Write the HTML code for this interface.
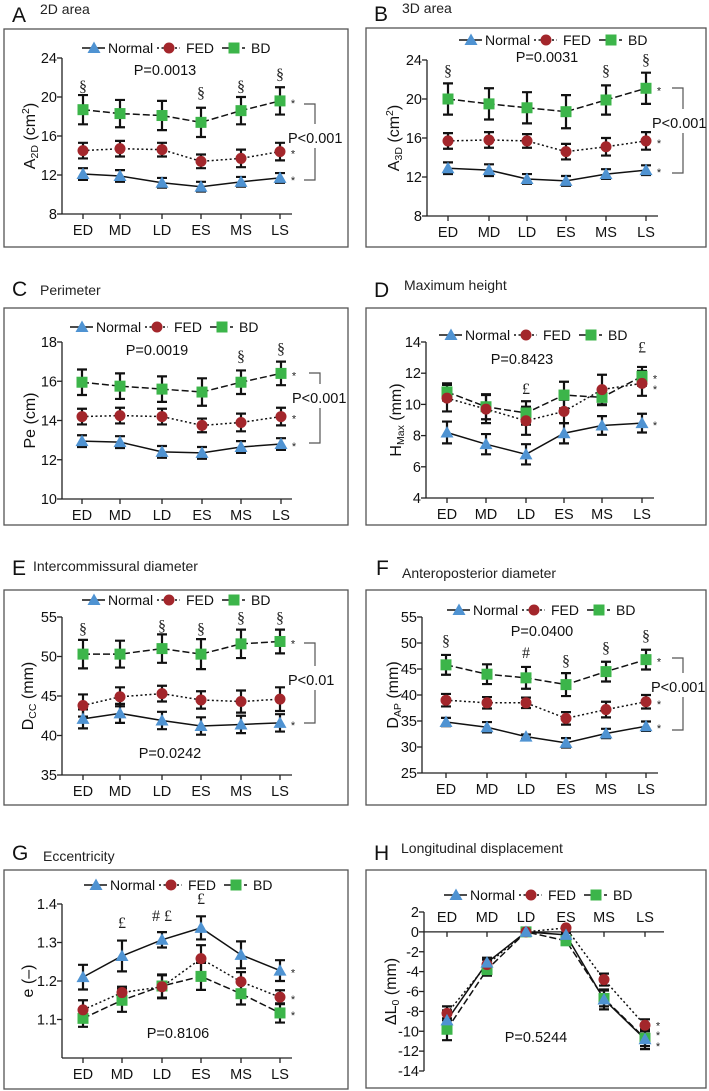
<!DOCTYPE html>
<html><head><meta charset="utf-8"><style>
html,body{margin:0;padding:0;background:#fff;width:709px;height:1091px;overflow:hidden}
svg{display:block;font-family:"Liberation Sans",Arial,sans-serif}
</style></head><body>
<svg id="fig" width="709" height="1091" viewBox="0 0 709 1091" xmlns="http://www.w3.org/2000/svg"></svg>
<script>
const categories = ["ED","MD","LD","ES","MS","LS"];
// A 2D area
const A_normal=[12.1,11.9,11.2,10.8,11.3,11.7], A_normalErr=[0.6,0.6,0.5,0.5,0.5,0.5];
const A_fed=[14.5,14.7,14.6,13.4,13.7,14.4], A_fedErr=[0.8,0.8,0.7,0.7,0.9,0.9];
const A_bd=[18.7,18.3,18.1,17.4,18.6,19.6], A_bdErr=[1.5,1.4,1.5,1.5,1.4,1.4];
const A_ticks=[8,12,16,20,24];
// B 3D area
const B_normal=[12.9,12.7,11.8,11.6,12.3,12.7], B_normalErr=[0.6,0.6,0.5,0.5,0.5,0.5];
const B_fed=[15.7,15.8,15.7,14.6,15.1,15.7], B_fedErr=[0.8,0.8,0.7,0.8,0.9,0.9];
const B_bd=[20.0,19.5,19.1,18.7,19.9,21.1], B_bdErr=[1.6,1.6,1.6,1.7,1.5,1.6];
const B_ticks=[8,12,16,20,24];
// C perimeter
const C_normal=[12.95,12.9,12.4,12.35,12.65,12.8], C_normalErr=[0.3,0.3,0.3,0.3,0.3,0.3];
const C_fed=[14.2,14.25,14.2,13.75,13.9,14.2], C_fedErr=[0.4,0.4,0.4,0.35,0.45,0.45];
const C_bd=[15.95,15.75,15.6,15.45,15.95,16.4], C_bdErr=[0.65,0.65,0.65,0.7,0.6,0.6];
const C_ticks=[10,12,14,16,18];
// D maximum height
const D_normal=[8.2,7.45,6.8,8.15,8.65,8.8], D_normalErr=[0.7,0.65,0.65,0.65,0.6,0.6];
const D_fed=[10.4,9.7,8.95,9.55,10.95,11.35], D_fedErr=[0.85,0.9,0.9,0.75,0.95,0.8];
const D_bd=[10.8,9.85,9.45,10.6,10.45,11.8], D_bdErr=[0.55,0.8,0.75,0.85,0.5,0.6];
const D_ticks=[4,6,8,10,12,14];
// E intercommissural diameter
const E_normal=[42.1,42.8,41.9,41.2,41.4,41.6], E_normalErr=[1.2,1.2,1.1,1.1,1.1,1.1];
const E_fed=[43.8,44.9,45.3,44.5,44.3,44.6], E_fedErr=[1.4,1.2,1.0,1.1,1.4,1.5];
const E_bd=[50.3,50.3,51.0,50.3,51.6,51.9], E_bdErr=[1.8,1.7,1.8,1.9,1.8,1.5];
const E_ticks=[35,40,45,50,55];
// F anteroposterior diameter
const F_normal=[34.8,33.8,32.0,30.8,32.6,34.0], F_normalErr=[0.8,1.0,0.4,0.9,0.9,0.9];
const F_fed=[39.0,38.5,38.5,35.5,37.2,38.7], F_fedErr=[1.2,1.1,1.0,1.2,1.5,1.3];
const F_bd=[45.8,44.0,43.3,42.0,44.5,46.8], F_bdErr=[1.9,1.9,2.1,2.2,1.9,1.9];
const F_ticks=[25,30,35,40,45,50,55];
// G eccentricity
const G_normal=[1.21,1.265,1.307,1.338,1.268,1.227], G_normalErr=[0.032,0.04,0.02,0.03,0.035,0.027];
const G_fed=[1.125,1.17,1.185,1.258,1.198,1.158], G_fedErr=[0.025,0.015,0.03,0.035,0.025,0.018];
const G_bd=[1.103,1.15,1.187,1.212,1.167,1.117], G_bdErr=[0.022,0.03,0.03,0.035,0.028,0.025];
const G_ticks=[1.1,1.2,1.3,1.4];
// H longitudinal displacement
const H_normal=[-8.9,-3.1,0,-0.3,-6.8,-10.8], H_normalErr=[1.0,0.5,0,0.2,1.0,1.0];
const H_fed=[-8.2,-3.3,0,0.4,-4.8,-9.4], H_fedErr=[0.7,0.5,0,0.1,0.6,0.6];
const H_bd=[-9.8,-3.8,0,-0.9,-6.7,-10.7], H_bdErr=[1.1,0.6,0,0.2,0.8,0.8];
const H_ticks=[-14,-12,-10,-8,-6,-4,-2,0,2];
// annotations: [category index, symbol, y value]
const A_marks=[[0,"§",21.2],[3,"§",20.5],[4,"§",21.2],[5,"§",22.4]];
const B_marks=[[0,"§",23.0],[4,"§",23.0],[5,"§",24.1]];
const C_marks=[[4,"§",17.3],[5,"§",17.7]];
const D_marks=[[2,"£",11.05],[5,"£",13.7]];
const E_marks=[[0,"§",53.6],[2,"§",54.0],[3,"§",53.6],[4,"§",55],[5,"§",55]];
const F_marks=[[0,"§",50.6],[2,"#",48.3],[3,"§",46.7],[4,"§",49.2],[5,"§",51.5]];
const G_marks=[[1,"£",1.353],[2,"# £",1.372],[3,"£",1.415]];
const H_marks=[];
// significance star y values at LS
const A_stars=[19.6,14.4,11.7], B_stars=[21.1,15.7,12.7], C_stars=[16.4,14.2,12.8], D_stars=[11.8,11.1,8.8];
const E_stars=[51.9,41.6], F_stars=[46.8,38.7,34.0], G_stars=[1.227,1.158,1.117], H_stars=[-9.2,-10.2,-11.3];

const NS="http://www.w3.org/2000/svg";
const svg=document.getElementById('fig');
function el(tag,attrs,parent,text){const e=document.createElementNS(NS,tag);for(const k in attrs)e.setAttribute(k,attrs[k]);if(text!==undefined)e.textContent=text;(parent||svg).appendChild(e);return e;}

const COL={normal:"#4f93d2",fed:"#a3262b",bd:"#3cb54a"};
const DASH={normal:"",fed:"2,2.5",bd:"7,3"};

function marker(g,kind,x,y){
  let m;
  if(kind==='normal'){m=el('polygon',{points:`${x},${y-6.5} ${x+6.5},${y+5} ${x-6.5},${y+5}`,fill:COL.normal},g);}
  else if(kind==='fed'){m=el('circle',{cx:x,cy:y,r:5.5,fill:COL.fed},g);}
  else {m=el('rect',{x:x-5.5,y:y-5.5,width:11,height:11,fill:COL.bd},g);}
  
  
}

const panels=[
 {id:'a',L:'A',title:'2D area',lx:12,ly:22,tx:40,ty:14,frame:[4,29,344,218],ax:62,top:58,bot:214,ymin:8,ymax:24,ticks:A_ticks,cx:[83,120,162,201,241,280],xEnd:292,
  ser:[A_normal,A_fed,A_bd],err:[A_normalErr,A_fedErr,A_bdErr],marks:A_marks,stars:A_stars,legX:82,legY:48,
  yt:{x:30,main:'A',sub:'2D',rest:' (cm',sup:'2',end:')'},P:['P=0.0013',165,75],br:{x:315,y1:104,y2:180,tx:288,ty:138,t:'P<0.001'}},
 {id:'b',L:'B',title:'3D area',lx:374,ly:21,tx:402,ty:13,frame:[366,28,340,219],ax:427,top:60,bot:216,ymin:8,ymax:24,ticks:B_ticks,cx:[448,489,527,566,606,646],xEnd:658,
  ser:[B_normal,B_fed,B_bd],err:[B_normalErr,B_fedErr,B_bdErr],marks:B_marks,stars:B_stars,legX:459,legY:40,
  yt:{x:394,main:'A',sub:'3D',rest:' (cm',sup:'2',end:')'},P:['P=0.0031',547,62],br:{x:683,y1:88,y2:173,tx:652,ty:123,t:'P<0.001'}},
 {id:'c',L:'C',title:'Perimeter',lx:12,ly:296,tx:40,ty:295,frame:[4,308,344,217],ax:62,top:342,bot:499,ymin:10,ymax:18,ticks:C_ticks,cx:[82,120,162,202,241,281],xEnd:292,
  ser:[C_normal,C_fed,C_bd],err:[C_normalErr,C_fedErr,C_bdErr],marks:C_marks,stars:C_stars,legX:70,legY:327,
  yt:{x:30,main:'Pe (cm)'},P:['P=0.0019',157,355],br:{x:320,y1:373,y2:443,tx:292,ty:398,t:'P<0.001'}},
 {id:'d',L:'D',title:'Maximum height',lx:374,ly:297,tx:404,ty:290,frame:[366,308,340,217],ax:426,top:342,bot:498,ymin:4,ymax:14,ticks:D_ticks,cx:[447,486,526,564,602,642],xEnd:654,
  ser:[D_normal,D_fed,D_bd],err:[D_normalErr,D_fedErr,D_bdErr],marks:D_marks,stars:D_stars,legX:439,legY:335,
  yt:{x:396,main:'H',sub:'Max',rest:' (mm)'},P:['P=0.8423',522,364],br:null},
 {id:'e',L:'E',title:'Intercommissural diameter',lx:12,ly:575,tx:33,ty:571,frame:[4,590,344,215],ax:62,top:617,bot:775,ymin:35,ymax:55,ticks:E_ticks,cx:[83,120,162,201,241,280],xEnd:292,
  ser:[E_normal,E_fed,E_bd],err:[E_normalErr,E_fedErr,E_bdErr],marks:E_marks,stars:E_stars,legX:82,legY:600,
  yt:{x:28,main:'D',sub:'CC',rest:' (mm)'},P:['P=0.0242',170,758],br:{x:315,y1:643,y2:723,tx:288,ty:680,t:'P<0.01'}},
 {id:'f',L:'F',title:'Anteroposterior diameter',lx:376,ly:575,tx:402,ty:578,frame:[366,590,340,215],ax:422,top:617,bot:773,ymin:25,ymax:55,ticks:F_ticks,cx:[446,487,526,566,606,646],xEnd:658,
  ser:[F_normal,F_fed,F_bd],err:[F_normalErr,F_fedErr,F_bdErr],marks:F_marks,stars:F_stars,legX:447,legY:610,
  yt:{x:393,main:'D',sub:'AP',rest:' (mm)'},P:['P=0.0400',542,636],br:{x:683,y1:658,y2:730,tx:651,ty:687,t:'P<0.001'}},
 {id:'g',L:'G',title:'Eccentricity',lx:12,ly:860,tx:43,ty:861,frame:[4,870,344,219],ax:62,top:904,bot:1058,ymin:1.0,ymax:1.4,ticks:G_ticks,cx:[83,122,162,201,241,280],xEnd:292,
  ser:[G_normal,G_fed,G_bd],err:[G_normalErr,G_fedErr,G_bdErr],marks:G_marks,stars:G_stars,legX:84,legY:885,
  yt:{x:28,main:'e (–)'},P:['P=0.8106',178,1038],br:null},
 {id:'h',L:'H',title:'Longitudinal displacement',lx:374,ly:860,tx:401,ty:853,frame:[366,870,340,218],ax:424,top:912,bot:1071,ymin:-14,ymax:2,ticks:H_ticks,cx:[447,487,526,566,604,645],xEnd:664,zeroAxis:true,
  ser:[H_normal,H_fed,H_bd],err:[H_normalErr,H_fedErr,H_bdErr],marks:H_marks,stars:H_stars,legX:444,legY:895,
  yt:{x:391,main:'ΔL',sub:'0',rest:' (mm)'},P:['P=0.5244',536,1042],br:null}
];
const kinds=['normal','fed','bd'];
const names=['Normal','FED','BD'];

panels.forEach(p=>{
  const g=el('g',{},svg);
  
  
  const yv=v=>p.bot-(v-p.ymin)/(p.ymax-p.ymin)*(p.bot-p.top);
  const t1=el('text',{x:p.lx,y:p.ly,'font-size':21,fill:'#111'},g,p.L);
  
  
  const t2=el('text',{x:p.tx,y:p.ty,'font-size':14,fill:'#222'},g,p.title);
  
  
  const fr=el('rect',{x:p.frame[0],y:p.frame[1],width:p.frame[2],height:p.frame[3],fill:'none',stroke:'#555','stroke-width':1.3},g);
  
  
  const ya=el('line',{x1:p.ax,y1:p.top,x2:p.ax,y2:p.bot,stroke:'#222','stroke-width':1.3},g);
  
  
  p.ticks.forEach(t=>{
    const y=yv(t);
    el('line',{x1:p.ax-5,y1:y,x2:p.ax,y2:y,stroke:'#222','stroke-width':1.3},g);
    const tl=el('text',{x:p.ax-5,y:y+5,'font-size':14.5,'text-anchor':'end',fill:'#111'},g,String(t));
    
    
  });
  const xy=p.zeroAxis?yv(0):p.bot;
  const xa=el('line',{x1:p.ax,y1:xy,x2:p.xEnd,y2:xy,stroke:'#222','stroke-width':1.3},g);
  
  
  p.cx.forEach((x,i)=>{
    el('line',{x1:x,y1:xy,x2:x,y2:xy+5,stroke:'#222','stroke-width':1.3},g);
    const ly=p.zeroAxis?xy-10:xy+21;
    const tl=el('text',{x:x,y:ly,'font-size':14.5,'text-anchor':'middle',fill:'#111'},g,categories[i]);
    
    
  });
  const cy=(p.top+p.bot)/2;
  const yt=el('text',{x:0,y:0,'font-size':16,'text-anchor':'middle',fill:'#111',transform:`translate(${p.yt.x+5},${cy}) rotate(-90)`},g);
  
  
  el('tspan',{},yt,p.yt.main);
  if(p.yt.sub){el('tspan',{'font-size':10.5,dy:3},yt,p.yt.sub);el('tspan',{dy:-3},yt,p.yt.rest);}
  if(p.yt.sup){el('tspan',{'font-size':10.5,dy:-6},yt,p.yt.sup);el('tspan',{dy:6},yt,p.yt.end);}
  [2,1,0].forEach(si=>{
    const d=p.ser[si].map((v,i)=>(i?'L':'M')+p.cx[i]+','+yv(v)).join(' ');
    const ln=el('path',{d:d,fill:'none',stroke:'#111','stroke-width':1.5,'stroke-dasharray':DASH[kinds[si]]},g);
    
    
  });
  [2,1,0].forEach(si=>{
    p.ser[si].forEach((v,i)=>{
      const e=p.err[si][i];
      if(e>0){
        const x=p.cx[i],y1=yv(v+e),y2=yv(v-e);
        const eb=el('path',{d:`M${x},${y1} L${x},${y2} M${x-5},${y1} L${x+5},${y1} M${x-5},${y2} L${x+5},${y2}`,stroke:'#111','stroke-width':2.2,fill:'none'},g);
        
        
      }
    });
  });
  [2,1,0].forEach(si=>{p.ser[si].forEach((v,i)=>marker(g,kinds[si],p.cx[i],yv(v)));});
  p.marks.forEach(m=>{
    const t=el('text',{x:p.cx[m[0]],y:yv(m[2])+6,'font-size':16,'text-anchor':'middle',fill:'#222','font-family':'"Liberation Serif",serif'},g,m[1]);
    
    
  });
  p.stars.forEach(s=>{
    const t=el('text',{x:p.cx[5]+13,y:yv(s)+6,'font-size':11,'text-anchor':'middle',fill:'#222'},g,'*');
    
    
  });
  const pt=el('text',{x:p.P[1],y:p.P[2],'font-size':14.5,'text-anchor':'middle',fill:'#111'},g,p.P[0]);
  
  
  if(p.br){
    const b=p.br;
    const bp=el('path',{d:`M${b.x-11},${b.y1} L${b.x},${b.y1} L${b.x},${b.ty-14} M${b.x},${b.ty+10} L${b.x},${b.y2} L${b.x-11},${b.y2}`,stroke:'#555','stroke-width':1.2,fill:'none'},g);
    
    
    const bt=el('text',{x:b.tx,y:b.ty+5,'font-size':14.5,fill:'#111'},g,b.t);
    
    
  }
  const lg=el('g',{},g);
  
  
  const offs=[[0,26],[75,104],[140,169]];
  kinds.forEach((k,i)=>{
    const x0=p.legX+offs[i][0], y=p.legY;
    const en=el('g',{},lg);
    
    
    el('line',{x1:x0,y1:y,x2:x0+23,y2:y,stroke:'#111','stroke-width':1.5,'stroke-dasharray':DASH[k]},en);
    marker(en,k,x0+12,y);
    el('text',{x:p.legX+offs[i][1],y:y+5,'font-size':14,fill:'#111'},en,names[i]);
  });
});
</script>
</body></html>
